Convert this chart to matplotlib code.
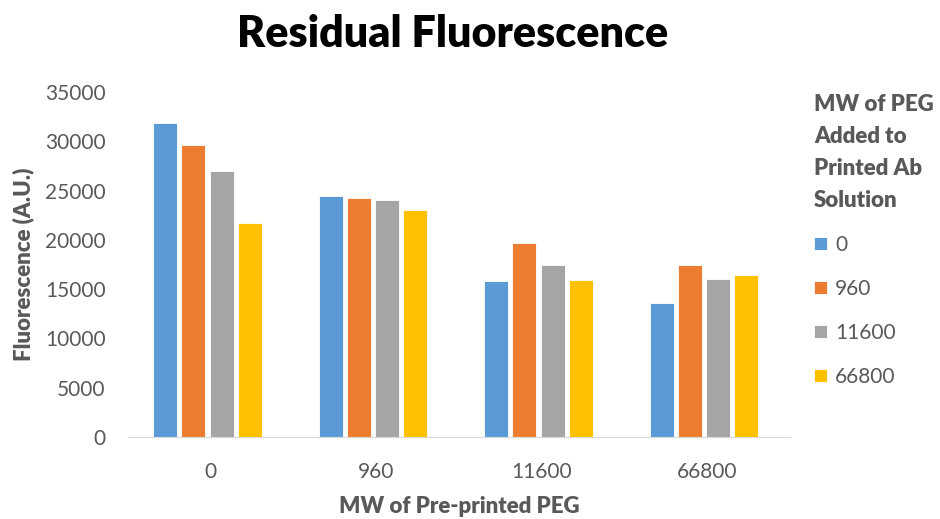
import numpy as np
import matplotlib.pyplot as plt

groups = ['0', '960', '11600', '66800']
series_names = ['0', '960', '11600', '66800']
vals_0 = [31900, 24500, 15800, 13550]
vals_960 = [29600, 24200, 19650, 17500]
vals_11600 = [27000, 24000, 17500, 16050]
vals_66800 = [21700, 23000, 15900, 16450]
colors = ['#5b9bd5', '#ed7d31', '#a5a5a5', '#ffc000']

plt.rcParams['font.family'] = ['Lato', 'DejaVu Sans']
fig = plt.figure(figsize=(9.4, 5.19), dpi=100)
ax = fig.add_axes([128 / 940, 1 - 437 / 519, (790 - 128) / 940, (437 - 92) / 519])

x = np.arange(len(groups))
w = 0.145
step = 0.17
for i, (vals, name) in enumerate(zip([vals_0, vals_960, vals_11600, vals_66800], series_names)):
    ax.bar(x + (i - 1.5) * step - 0.02, vals, width=w, color=colors[i], label=name,
           edgecolor='white', linewidth=0.6)

ax.set_xlim(-0.5, 3.5)
ax.set_ylim(0, 35000)
ax.set_yticks(range(0, 35001, 5000))
ax.set_xticks(x)
ax.set_xticklabels(groups)
for s in ['top', 'right', 'left']:
    ax.spines[s].set_visible(False)
ax.spines['bottom'].set_color('#d9d9d9')
ax.tick_params(axis='both', length=0, labelsize=15, colors='#595959')
ax.tick_params(axis='y', pad=16)
ax.tick_params(axis='x', pad=18)

ax.set_ylabel('Fluorescence (A.U.)', fontsize=16, fontweight='heavy', color='#595959', labelpad=8)
ax.set_xlabel('MW of Pre-printed PEG', fontsize=16, fontweight='heavy', color='#595959', labelpad=10)
fig.text(0.481, 0.935, 'Residual Fluorescence', ha='center', va='center',
         fontsize=31, fontweight='heavy', color='black')

leg = ax.legend(title='MW of PEG\nAdded to\nPrinted Ab\nSolution', loc='upper left',
                bbox_to_anchor=(1.005, 1.055), frameon=False, fontsize=15,
                handlelength=0.6, handleheight=0.6, labelspacing=1.15,
                handletextpad=0.4, borderaxespad=0.8, borderpad=0.2)
leg.get_title().set_fontweight('heavy')
leg.get_title().set_fontsize(16)
leg.get_title().set_color('#595959')
leg.get_title().set_ha('left')
leg.get_title().set_linespacing(1.65)
leg._legend_box.align = 'left'
for t in leg.get_texts():
    t.set_color('#595959')

fig.savefig('out.png', dpi=100)
